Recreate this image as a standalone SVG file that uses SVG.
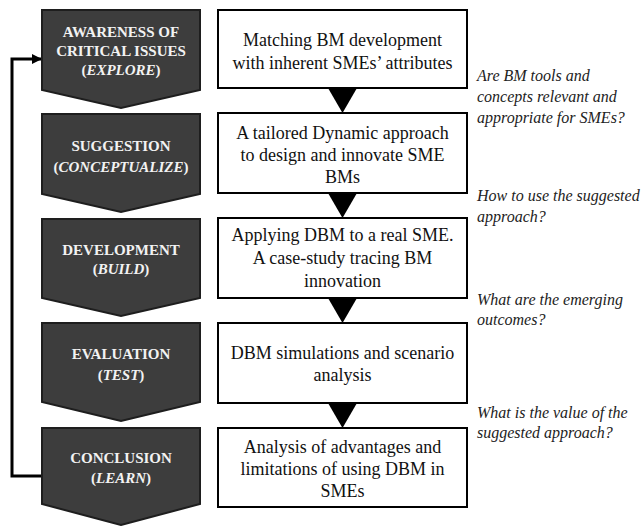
<svg xmlns="http://www.w3.org/2000/svg" width="642" height="526" viewBox="0 0 642 526" font-family="Liberation Serif, DejaVu Serif, serif">
<style>
.stage{fill:#3d3d3d;stroke:#1e1e1e;stroke-width:2}
.st{font-weight:bold;font-size:15px;fill:#f2f2f2;text-anchor:middle}
.box{fill:#fff;stroke:#000;stroke-width:2}
.bt{font-size:18px;fill:#111;text-anchor:middle}
.q{font-style:italic;font-size:16px;fill:#222}
.tri{fill:#000}
</style>
<defs>
<marker id="ah" markerWidth="10" markerHeight="10" refX="9" refY="5" orient="auto" markerUnits="userSpaceOnUse">
<path d="M0,0 L10,5 L0,10 Z" fill="#000"/>
</marker>
</defs>
<g id="connectors">
<polyline points="42,476 12,476 12,59 41,59" fill="none" stroke="#000" stroke-width="3" marker-end="url(#ah)"/>
<polygon class="tri" points="328,88 357,88 342.5,113"/>
<polygon class="tri" points="328,193 357,193 342.5,218"/>
<polygon class="tri" points="328,298 357,298 342.5,323"/>
<polygon class="tri" points="328,403 357,403 342.5,428"/>
</g>
<g id="stage1" font-family="Liberation Serif, serif">
<polygon class="stage" points="42,10 200,10 200,90 121,108 42,90"/>
<text class="st" x="121" y="37">AWARENESS OF</text>
<text class="st" x="121" y="56">CRITICAL ISSUES</text>
<text class="st" x="121" y="75">(<tspan font-style="italic">EXPLORE</tspan>)</text>
</g>
<g id="stage2" font-family="Liberation Serif, serif">
<polygon class="stage" points="42,114 200,114 200,194 121,212 42,194"/>
<text class="st" x="121" y="151">SUGGESTION</text>
<text class="st" x="121" y="172">(<tspan font-style="italic">CONCEPTUALIZE</tspan>)</text>
</g>
<g id="stage3" font-family="Liberation Serif, serif">
<polygon class="stage" points="42,219 200,219 200,298 121,316 42,298"/>
<text class="st" x="121" y="255">DEVELOPMENT</text>
<text class="st" x="121" y="274">(<tspan font-style="italic">BUILD</tspan>)</text>
</g>
<g id="stage4" font-family="Liberation Serif, serif">
<polygon class="stage" points="42,323 200,323 200,402 121,421 42,402"/>
<text class="st" x="121" y="359">EVALUATION</text>
<text class="st" x="121" y="380">(<tspan font-style="italic">TEST</tspan>)</text>
</g>
<g id="stage5" font-family="Liberation Serif, serif">
<polygon class="stage" points="42,428 200,428 200,504 121,525 42,504"/>
<text class="st" x="121" y="463">CONCLUSION</text>
<text class="st" x="121" y="483">(<tspan font-style="italic">LEARN</tspan>)</text>
</g>
<g id="box1" font-family="Liberation Serif, serif">
<rect class="box" x="218" y="10" width="249" height="78"/>
<text class="bt" x="342.5" y="46">Matching BM development</text>
<text class="bt" x="342.5" y="69">with inherent SMEs’ attributes</text>
</g>
<g id="box2" font-family="Liberation Serif, serif">
<rect class="box" x="218" y="113" width="249" height="80"/>
<text class="bt" x="342.5" y="139">A tailored Dynamic approach</text>
<text class="bt" x="342.5" y="161">to design and innovate SME</text>
<text class="bt" x="342.5" y="183">BMs</text>
</g>
<g id="box3" font-family="Liberation Serif, serif">
<rect class="box" x="218" y="218" width="249" height="80"/>
<text class="bt" x="342.5" y="241">Applying DBM to a real SME.</text>
<text class="bt" x="342.5" y="264">A case-study tracing BM</text>
<text class="bt" x="342.5" y="287">innovation</text>
</g>
<g id="box4" font-family="Liberation Serif, serif">
<rect class="box" x="218" y="323" width="249" height="80"/>
<text class="bt" x="342.5" y="359">DBM simulations and scenario</text>
<text class="bt" x="342.5" y="381">analysis</text>
</g>
<g id="box5" font-family="Liberation Serif, serif">
<rect class="box" x="218" y="428" width="249" height="79"/>
<text class="bt" x="342.5" y="453">Analysis of advantages and</text>
<text class="bt" x="342.5" y="475">limitations of using DBM in</text>
<text class="bt" x="342.5" y="497">SMEs</text>
</g>
<g id="questions" font-family="Liberation Serif, serif">
<text class="q" x="477" y="81">Are BM tools and</text>
<text class="q" x="477" y="102">concepts relevant and</text>
<text class="q" x="477" y="123">appropriate for SMEs?</text>
<text class="q" x="477" y="201">How to use the suggested</text>
<text class="q" x="477" y="222">approach?</text>
<text class="q" x="477" y="305">What are the emerging</text>
<text class="q" x="477" y="325">outcomes?</text>
<text class="q" x="477" y="418">What is the value of the</text>
<text class="q" x="477" y="438">suggested approach?</text>
</g>
</svg>
